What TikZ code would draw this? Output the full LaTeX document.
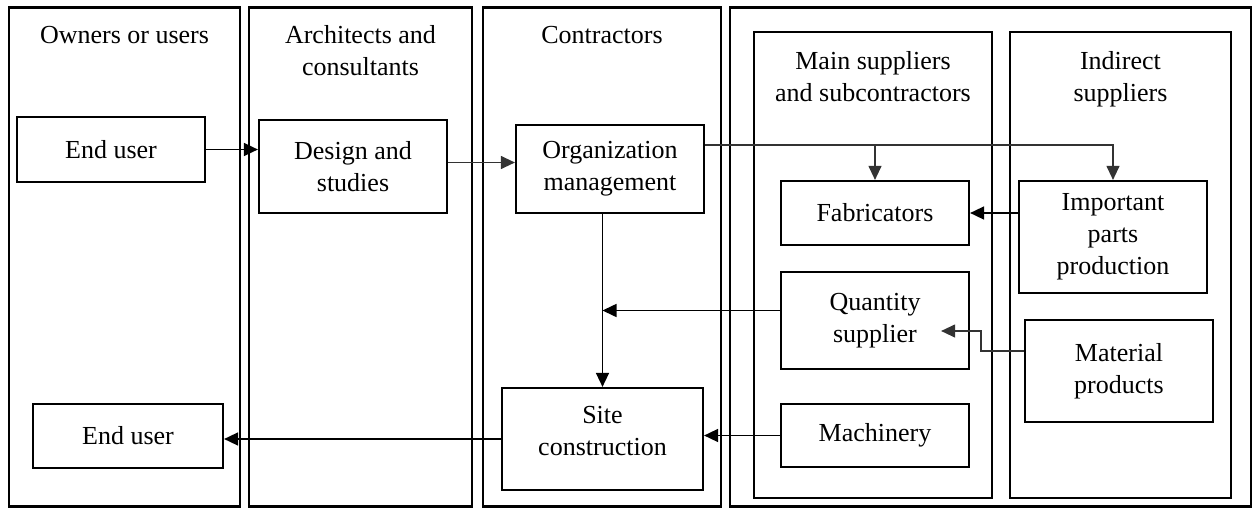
\documentclass[tikz,border=0pt]{standalone}
\usepackage{fontspec}
\setmainfont{Liberation Serif}
\usetikzlibrary{positioning,arrows.meta}

\begin{document}
\begin{tikzpicture}[x=0.5pt,y=-0.5pt,
  font=\fontsize{13}{16}\selectfont,
  column/.style={draw,line width=1.1pt,inner sep=0pt},
  coltitle/.style={align=center,inner sep=2pt},
  unit/.style={draw,line width=1.1pt,align=center,minimum width=94pt,inner sep=2pt},
  flow/.style={line width=0.8pt,-{Triangle[length=7pt,width=6.5pt]}},
  thinflow/.style={flow,line width=0.6pt,black!80}]

\useasboundingbox (0,0) rectangle (1255,509);

% columns
\node[column,minimum width=115.5pt,minimum height=249.5pt] (owners) at (124.5,257) {};
\node[column,minimum width=111.5pt,minimum height=249.5pt] (archs) at (360.5,257) {};
\node[column,minimum width=119pt,minimum height=249.5pt] (contr) at (602,257) {};
\node[column,minimum width=260.5pt,minimum height=249.5pt] (suppl) at (990.5,257) {};
\node[column,minimum width=119pt,minimum height=233pt] (mainsup) at (873,265) {};
\node[column,minimum width=110.5pt,minimum height=233pt] (indsup) at (1120.5,265) {};

% column titles
\node[coltitle,below=7.5pt of owners.north] (towners) {Owners or users};
\node[coltitle,below=7.5pt of archs.north] (tarchs) {Architects and\\consultants};
\node[coltitle,below=7.5pt of contr.north] (tcontr) {Contractors};
\node[coltitle,below=8pt of mainsup.north] (tmainsup) {Main suppliers\\and subcontractors};
\node[coltitle,below=8pt of indsup.north] (tindsup) {Indirect\\suppliers};

% boxes
\node[unit,minimum height=32.5pt] (enduser) at (111,149.5) {End user};
\node[unit,minimum height=46.5pt] (design) at (353,166.5) {Design and\\studies};
\node[unit,minimum height=44pt] (orgmgmt) at (610,169) {Organization\\management};
\node[unit,minimum height=32pt] (fabric) at (875,213) {Fabricators};
\node[unit,minimum height=56pt] (imparts) at (1113,237) {Important\\parts\\production};
\node[unit,minimum height=48.5pt] (qsupp) at (875,320.5) {Quantity\\supplier};
\node[unit,minimum height=51pt] (material) at (1119,371) {Material\\products};
\node[unit,minimum height=31.5pt] (machinery) at (875,435.5) {Machinery};
\node[unit,minimum width=100.5pt,minimum height=51pt] (site) at (602.5,439) {Site\\construction\\[-8pt]};
\node[unit,minimum width=95pt,minimum height=32pt] (enduserb) at (128,436) {End user};

% connectors
\coordinate (orgout) at ([yshift=12pt]orgmgmt.east);
\coordinate (qout) at ([yshift=5pt]qsupp.west);
\coordinate (matout) at ([yshift=10pt]material.west);
\coordinate (qin) at ([xshift=-14.5pt,yshift=-5.25pt]qsupp.east);

\draw[flow] (enduser.east) -- (enduser.east -| design.west);
\draw[thinflow] ([yshift=2pt]design.east) -- ([yshift=2pt]design.east -| orgmgmt.west);
\draw[thinflow] (orgout) -| (imparts.north);
\draw[thinflow] (orgout -| fabric.north) -- (fabric.north);
\draw[flow] (fabric.east -| imparts.west) -- (fabric.east);
\draw[flow] (site.north |- orgmgmt.south) -- (site.north);
\draw[flow] (qout) -- (qout -| site.north);
\draw[thinflow] (matout) -- ++(-21.5pt,0) |- (qin);
\draw[flow] (machinery.west) -- (machinery.west -| site.east);
\draw[flow] (site.west) -- (site.west -| enduserb.east);

\end{tikzpicture}
\end{document}
